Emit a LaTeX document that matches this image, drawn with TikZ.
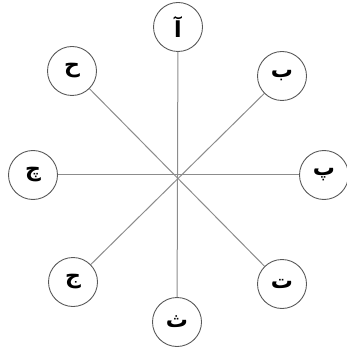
\documentclass[tikz,border=0pt]{standalone}
\usepackage{fontspec}
\TeXXeTstate=1
\newfontfamily\arabicfont[Script=Arabic]{DejaVu Sans Bold}
\begin{document}
\begin{tikzpicture}[x=1pt,y=-1pt,
  letter/.style={circle,draw=black!65,line width=0.9pt,minimum size=49pt,inner sep=0pt,font=\arabicfont\fontsize{22}{26}\selectfont},
  spoke/.style={draw=black!45,line width=1pt}]
\useasboundingbox (0,0) rectangle (346,352);
\node[letter] (a)  at (178,27)  {\beginR آ\endR};
\node[letter] (b)  at (282,76)  {\beginR ب\endR};
\node[letter] (p)  at (324,175) {\beginR پ\endR};
\node[letter] (t)  at (282,284) {\beginR ت\endR};
\node[letter] (th) at (177,322) {\beginR ث\endR};
\node[letter] (j)  at (73,282)  {\beginR ج\endR};
\node[letter] (ch) at (33,175)  {\beginR چ\endR};
\node[letter] (h)  at (72,71)   {\beginR ح\endR};
\draw[spoke] (a) -- (th);
\draw[spoke] (b) -- (j);
\draw[spoke] (p) -- (ch);
\draw[spoke] (h) -- (t);
\end{tikzpicture}
\end{document}
